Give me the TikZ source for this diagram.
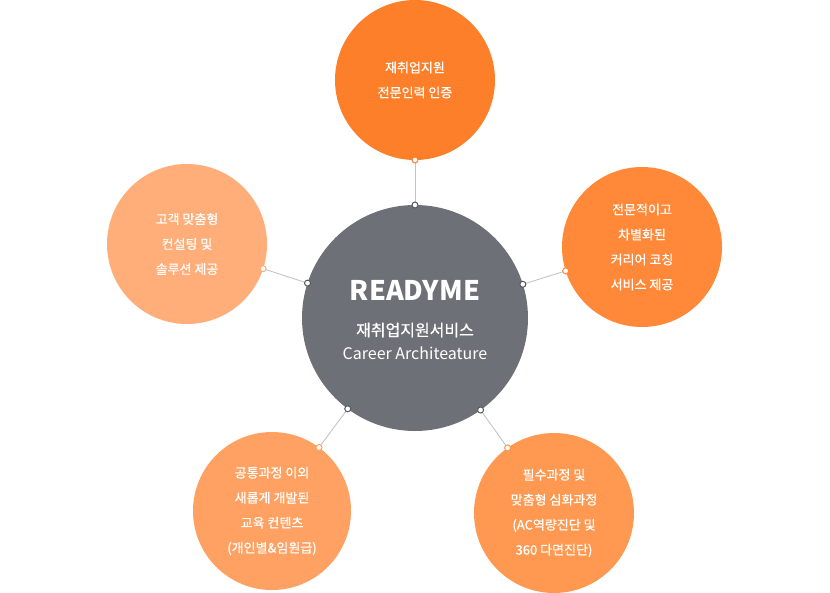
\documentclass[tikz,border=0pt]{standalone}
\usepackage{fontspec}
\setmainfont{Noto Sans CJK KR}
\newfontfamily\medfont[FakeBold=0.6]{Noto Sans CJK KR}
\definecolor{topc}{HTML}{FE7F2A}
\definecolor{rightc}{HTML}{FF8939}
\definecolor{leftc}{HTML}{FFAE7A}
\definecolor{blc}{HTML}{FFA162}
\definecolor{brc}{HTML}{FF9850}
\definecolor{hubc}{HTML}{6D7076}
\definecolor{hubedge}{HTML}{55585E}
\definecolor{linkc}{HTML}{C4C4C4}
\tikzset{
  outer/.style={circle, inner sep=0pt, outer sep=0pt, minimum size=160pt, text=white, align=center, font=\medfont\fontsize{13}{25}\selectfont},
  hub/.style={circle, inner sep=0pt, outer sep=0pt, minimum size=226pt, fill=hubc},
  link/.style={draw=linkc, line width=0.9pt},
  hubdot/.style={circle, inner sep=0pt, minimum size=6pt, fill=white, draw=hubedge, line width=1pt},
  odot/.style={circle, inner sep=0pt, minimum size=6pt, fill=white, draw=#1, line width=1pt},
  hubtext/.style={text=white, inner sep=0pt, anchor=base}
}
\begin{document}
\begin{tikzpicture}[x=1pt,y=-1pt]
\useasboundingbox (0,0) rectangle (830,592);
\node[hub] (hub) at (415,318) {};
\node[outer, fill=topc] (top) at (415,80) {재취업지원\\전문인력 인증};
\node[outer, fill=rightc] (right) at (642,247) {전문적이고\\차별화된\\커리어 코칭\\서비스 제공};
\node[outer, fill=leftc] (left) at (187,244) {고객 맞춤형\\컨설팅 및\\솔루션 제공};
\node[outer, fill=blc, minimum size=158pt] (bl) at (272,511) {공통과정 이외\\새롭게 개발된\\교육 컨텐츠\\(개인별\&임원급)};
\node[outer, fill=brc] (br) at (554,513) {필수과정 및\\맞춤형 심화과정\\(AC역량진단 및\\360 다면진단)};
\node[hubtext, font=\fontsize{27}{30}\bfseries] (brand) at (415,300) {READYME};
\node[hubtext, font=\medfont\fontsize{16}{20}\selectfont] (svc) at (415,336) {재취업지원서비스};
\node[hubtext, font=\fontsize{16}{20}\selectfont] (eng) at (415,359) {Career Architeature};
\draw[link] (hub) -- (top) node[pos=0, hubdot]{} node[pos=1, odot=topc]{};
\draw[link] (hub) -- (right) node[pos=0, hubdot]{} node[pos=1, odot=rightc]{};
\draw[link] (hub) -- (left) node[pos=0, hubdot]{} node[pos=1, odot=leftc]{};
\draw[link] (hub) -- (bl) node[pos=0, hubdot]{} node[pos=1, odot=blc]{};
\draw[link] (hub) -- (br) node[pos=0, hubdot]{} node[pos=1, odot=brc]{};
\end{tikzpicture}
\end{document}
